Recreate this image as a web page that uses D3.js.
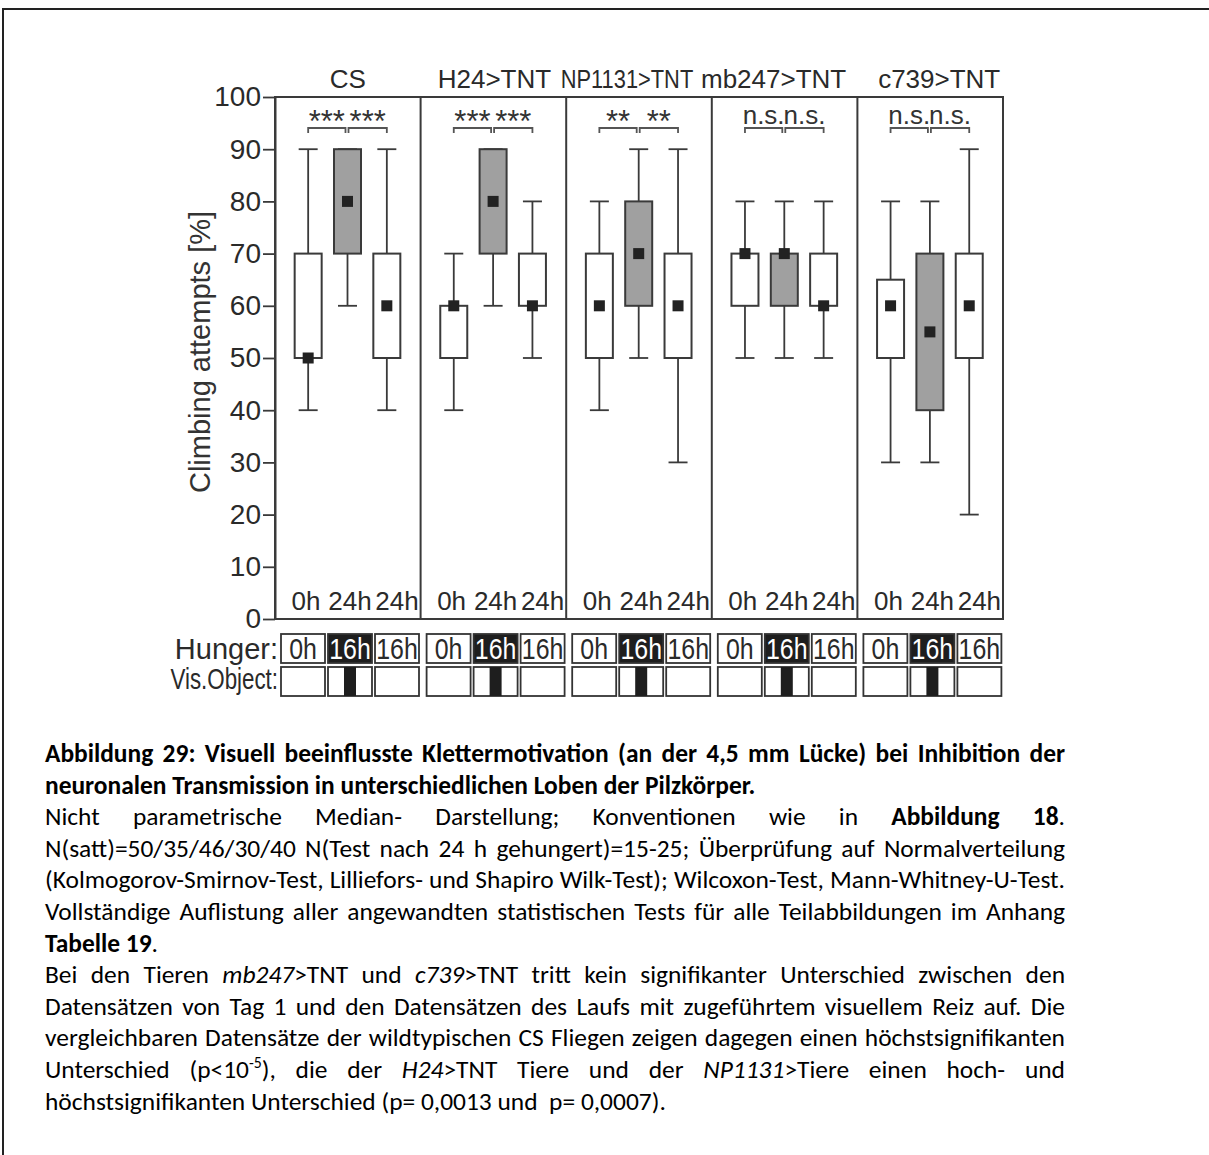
<!DOCTYPE html>
<html><head><meta charset="utf-8">
<script src="https://cdn.jsdelivr.net/npm/d3@7"></script>
<style>
body{margin:0;background:#fff;}
svg{display:block;}
</style></head><body>
<svg id="chart" width="1209" height="1155"></svg>
<script>
// ---------- data ----------
const groups = ["CS", "H24>TNT", "NP1131>TNT", "mb247>TNT", "c739>TNT"];
const conditionLabels = ["0h", "24h", "24h"];
const hungerLabels = ["0h", "16h", "16h"];
const visObject = [false, true, false];
const whiskerLow  = [[40, 60, 40], [40, 60, 50], [40, 50, 30], [50, 50, 50], [30, 30, 20]];
const q1          = [[50, 70, 50], [50, 70, 60], [50, 60, 50], [60, 60, 60], [50, 40, 50]];
const medians     = [[50, 80, 60], [60, 80, 60], [60, 70, 60], [70, 70, 60], [60, 55, 60]];
const q3          = [[70, 90, 70], [60, 90, 70], [70, 80, 70], [70, 70, 70], [65, 70, 70]];
const whiskerHigh = [[90, 90, 90], [70, 90, 80], [80, 90, 90], [80, 80, 80], [80, 80, 90]];
const significance = [["***", "***"], ["***", "***"], ["**", "**"], ["n.s.", "n.s."], ["n.s.", "n.s."]];
const yTicks = [0, 10, 20, 30, 40, 50, 60, 70, 80, 90, 100];
const yLabel = "Climbing attempts [%]";
const rowLabels = ["Hunger:", "Vis.Object:"];

const captionLines = [
  {j: true,  runs: [["Abbildung 29: Visuell beeinflusste Klettermotivation (an der 4,5 mm Lücke) bei Inhibition der", "b"]]},
  {j: false, runs: [["neuronalen Transmission in unterschiedlichen Loben der Pilzkörper.", "b"]]},
  {j: true,  runs: [["Nicht parametrische Median- Darstellung; Konventionen wie in ", ""], ["Abbildung 18", "b"], [".", ""]]},
  {j: true,  runs: [["N(satt)=50/35/46/30/40 N(Test nach 24 h gehungert)=15-25; Überprüfung auf Normalverteilung", ""]]},
  {j: true,  runs: [["(Kolmogorov-Smirnov-Test, Lilliefors- und Shapiro Wilk-Test); Wilcoxon-Test, Mann-Whitney-U-Test.", ""]]},
  {j: true,  runs: [["Vollständige Auflistung aller angewandten statistischen Tests für alle Teilabbildungen im Anhang", ""]]},
  {j: false, runs: [["Tabelle 19", "b"], [".", ""]]},
  {j: true,  runs: [["Bei den Tieren ", ""], ["mb247", "i"], [">TNT und ", ""], ["c739", "i"], [">TNT tritt kein signifikanter Unterschied zwischen den", ""]]},
  {j: true,  runs: [["Datensätzen von Tag 1 und den Datensätzen des Laufs mit zugeführtem visuellem Reiz auf. Die", ""]]},
  {j: true,  runs: [["vergleichbaren Datensätze der wildtypischen CS Fliegen zeigen dagegen einen höchstsignifikanten", ""]]},
  {j: true,  runs: [["Unterschied (p<10", ""], ["-5", "sup"], ["), die der ", ""], ["H24", "i"], [">TNT Tiere und der ", ""], ["NP1131", "i"], [">Tiere einen hoch- und", ""]]},
  {j: false, runs: [["höchstsignifikanten Unterschied (p= 0,0013 und  p= 0,0007).", ""]]}
];

// ---------- layout ----------
const W = 1209, H = 1155;
const svg = d3.select("#chart");
const chartFont = "'Liberation Sans', Arial, Helvetica, sans-serif";
const ink = "#2a2a2a";
const lineCol = "#3a3a3a";

// outer page frame (top + left)
svg.append("path").attr("d", `M3,${H} V9 H${W}`).attr("fill", "none")
  .attr("stroke", "#222").attr("stroke-width", 2);

const plotL = 275, plotR = 1003, plotT = 97, plotB = 619;
const y = d3.scaleLinear().domain([0, 100]).range([plotB, plotT]);
const xPanel = d3.scaleBand().domain(groups).range([plotL, plotR]);
const xCond = d3.scaleBand().domain([0, 1, 2]).range([13.5, 131.5]);
const xRow = d3.scaleBand().domain([0, 1, 2]).range([6, 144]).paddingInner(3 / 47);
const cx = (g, i) => xPanel(groups[g]) + xCond(i) + xCond.bandwidth() / 2;
const rx = (g, i) => xPanel(groups[g]) + xRow(i);

const boxW = 27, capW = 19, medS = 11;
// horizontal nudges and squeeze of the panel titles (as placed in the original figure)
const headerShift = [0, 1, -12, -11, 9];
const headerSqueeze = [1, 1, 0.84, 1, 1];

// panels frame
svg.append("rect").attr("x", plotL).attr("y", plotT).attr("width", plotR - plotL).attr("height", plotB - plotT)
  .attr("fill", "none").attr("stroke", lineCol).attr("stroke-width", 2);
groups.slice(1).forEach(g => {
  svg.append("line").attr("x1", xPanel(g)).attr("x2", xPanel(g)).attr("y1", plotT).attr("y2", plotB)
    .attr("stroke", lineCol).attr("stroke-width", 2);
});

// y axis
const yAxis = d3.axisLeft(y).tickValues(yTicks).tickSize(12).tickSizeOuter(0).tickPadding(2);
const gy = svg.append("g").attr("transform", `translate(${plotL},0)`).call(yAxis);
gy.select(".domain").attr("stroke", lineCol).attr("stroke-width", 2);
gy.selectAll(".tick line").attr("stroke", lineCol).attr("stroke-width", 1.8);
gy.selectAll(".tick text").attr("font-family", chartFont).attr("font-size", 28).attr("fill", ink);

svg.append("text").attr("transform", `translate(210,352) rotate(-90)`)
  .attr("text-anchor", "middle").attr("font-family", chartFont).attr("font-size", 29)
  .attr("fill", "#333").text(yLabel);

// group headers
svg.selectAll(".hdr").data(groups).join("text").attr("class", "hdr")
  .attr("transform", (g, k) => `translate(${xPanel(g) + xPanel.bandwidth() / 2 + headerShift[k]},88) scale(${headerSqueeze[k]},1)`)
  .attr("text-anchor", "middle").attr("font-family", chartFont).attr("font-size", 26)
  .attr("fill", ink).text(g => g);

// boxes
groups.forEach((grp, g) => {
  [0, 1, 2].forEach(i => {
    const c = cx(g, i);
    const gg = svg.append("g");
    gg.append("line").attr("x1", c).attr("x2", c).attr("y1", y(whiskerLow[g][i])).attr("y2", y(q1[g][i]))
      .attr("stroke", lineCol).attr("stroke-width", 1.8);
    gg.append("line").attr("x1", c).attr("x2", c).attr("y1", y(q3[g][i])).attr("y2", y(whiskerHigh[g][i]))
      .attr("stroke", lineCol).attr("stroke-width", 1.8);
    [whiskerLow[g][i], whiskerHigh[g][i]].forEach(v => {
      gg.append("line").attr("x1", c - capW / 2).attr("x2", c + capW / 2).attr("y1", y(v)).attr("y2", y(v))
        .attr("stroke", lineCol).attr("stroke-width", 1.8);
    });
    gg.append("rect").attr("x", c - boxW / 2).attr("y", y(q3[g][i])).attr("width", boxW)
      .attr("height", y(q1[g][i]) - y(q3[g][i]))
      .attr("fill", i === 1 ? "#a0a0a0" : "#fff").attr("stroke", lineCol).attr("stroke-width", 2);
    gg.append("rect").attr("x", c - medS / 2).attr("y", y(medians[g][i]) - medS / 2)
      .attr("width", medS).attr("height", medS).attr("fill", "#222");
  });
  // significance brackets
  const pairs = [[cx(g, 0), cx(g, 1) - 2], [cx(g, 1) + 1, cx(g, 2)]];
  pairs.forEach((p, k) => {
    svg.append("path").attr("d", `M${p[0]},133 V128 H${p[1]} V133`).attr("fill", "none")
      .attr("stroke", "#555").attr("stroke-width", 1.8);
    const lab = significance[g][k];
    const isNs = lab === "n.s.";
    svg.append("text").attr("x", (p[0] + p[1]) / 2).attr("y", isNs ? 124 : 132)
      .attr("text-anchor", "middle").attr("font-family", chartFont).attr("font-size", isNs ? 26 : 31)
      .attr("fill", "#333").text(lab);
  });
  // condition labels
  [0, 1, 2].forEach(i => {
    svg.append("text").attr("x", rx(g, i) + xRow.bandwidth() / 2 + (i === 0 ? 3 : 0)).attr("y", 610)
      .attr("text-anchor", "middle").attr("font-family", chartFont).attr("font-size", 26)
      .attr("fill", ink).text(conditionLabels[i]);
  });
  // hunger row + vis object row
  [0, 1, 2].forEach(i => {
    const x = rx(g, i), bw = xRow.bandwidth();
    svg.append("rect").attr("x", x).attr("y", 634).attr("width", bw).attr("height", 29)
      .attr("fill", i === 1 ? "#1e1e1e" : "#fff").attr("stroke", "#333").attr("stroke-width", 1.8);
    svg.append("text").attr("transform", `translate(${x + bw / 2},659) scale(0.86,1)`)
      .attr("text-anchor", "middle").attr("font-family", chartFont).attr("font-size", 29)
      .attr("fill", i === 1 ? "#fff" : ink).text(hungerLabels[i]);
    svg.append("rect").attr("x", x).attr("y", 667).attr("width", bw).attr("height", 29)
      .attr("fill", "#fff").attr("stroke", "#333").attr("stroke-width", 1.8);
    if (visObject[i]) {
      svg.append("rect").attr("x", x + bw / 2 - 6).attr("y", 667).attr("width", 12).attr("height", 29)
        .attr("fill", "#1e1e1e");
    }
  });
});

// row labels
svg.append("text").attr("x", 278).attr("y", 659).attr("text-anchor", "end").attr("font-family", chartFont)
  .attr("font-size", 29).attr("fill", ink).text(rowLabels[0]);
svg.append("text").attr("transform", "translate(278,689) scale(0.77,1)").attr("text-anchor", "end")
  .attr("font-family", chartFont).attr("font-size", 29).attr("fill", ink).text(rowLabels[1]);

// ---------- caption ----------
const capFont = "Carlito, Calibri, Lato, sans-serif";
const capL = 45, capR = 1065, capTop = 762, capStep = 31.6;
const capG = svg.append("g").attr("font-family", capFont).attr("fill", "#000");

function fillText(t, pieces, fs) {
  let shifted = false;
  pieces.forEach(p => {
    const ts = t.append("tspan").text(p.text);
    if (p.style === "b") ts.attr("font-weight", "bold");
    if (p.style === "i") ts.attr("font-style", "italic");
    if (p.style === "sup") { ts.attr("font-size", fs * 0.62).attr("dy", -fs * 0.38); shifted = true; }
    else if (shifted) { ts.attr("dy", fs * 0.38); shifted = false; }
  });
}
function splitWords(runs) {
  const words = [[]];
  runs.forEach(([txt, st]) => {
    txt.split(" ").forEach((p, k) => {
      if (k > 0) words.push([]);
      if (p) words[words.length - 1].push({text: p, style: st});
    });
  });
  return words.filter(w => w.length);
}

// choose the font size so that the widest justified line fits with natural word spacing
const probeFs = 24;
capG.attr("font-size", probeFs);
const spaceProbe = capG.append("text").style("white-space", "pre").text("a a");
const aProbe = capG.append("text").text("aa");
const spaceW = spaceProbe.node().getComputedTextLength() - aProbe.node().getComputedTextLength();
spaceProbe.remove(); aProbe.remove();
let minRatio = Infinity;
captionLines.filter(l => l.j).forEach(ln => {
  const ws = splitWords(ln.runs);
  let tot = 0;
  ws.forEach(w => {
    const t = capG.append("text");
    fillText(t, w, probeFs);
    tot += t.node().getComputedTextLength();
    t.remove();
  });
  tot += spaceW * 1.05 * (ws.length - 1);
  minRatio = Math.min(minRatio, (capR - capL) / tot);
});
const fs = probeFs * minRatio;
capG.attr("font-size", fs);

captionLines.forEach((ln, li) => {
  const by = capTop + li * capStep;
  if (!ln.j) {
    const t = capG.append("text").attr("x", capL).attr("y", by).style("white-space", "pre");
    fillText(t, ln.runs.map(r => ({text: r[0], style: r[1]})), fs);
    return;
  }
  const ws = splitWords(ln.runs);
  const els = ws.map(w => {
    const t = capG.append("text").attr("x", 0).attr("y", by);
    fillText(t, w, fs);
    return t;
  });
  const widths = els.map(e => e.node().getComputedTextLength());
  const gap = (capR - capL - d3.sum(widths)) / (ws.length - 1);
  let xx = capL;
  els.forEach((e, k) => { e.attr("x", xx); xx += widths[k] + gap; });
});
</script>
</body></html>
